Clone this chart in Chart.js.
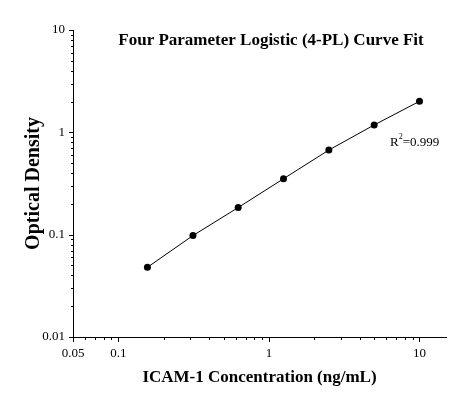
<!DOCTYPE html>
<html>
<head>
<meta charset="utf-8">
<script src="https://cdn.jsdelivr.net/npm/chart.js@4/dist/chart.umd.min.js"></script>
<style>
  html, body { margin: 0; padding: 0; background: #fff; }
  #wrap { width: 464px; height: 399px; }
</style>
</head>
<body>
<div id="wrap"><canvas id="mycanvas"></canvas></div>
<script>
// standard curve values
var concentration = [0.156, 0.313, 0.625, 1.25, 2.5, 5, 10];
var opticalDensity = [0.048, 0.098, 0.184, 0.352, 0.671, 1.18, 2.01];

var xLabels = [0.05, 0.1, 1, 10];
var yLabels = [0.01, 0.1, 1, 10];
var xMinor = [0.06, 0.07, 0.08, 0.09, 0.2, 0.3, 0.4, 0.5, 0.6, 0.7, 0.8, 0.9, 2, 3, 4, 5, 6, 7, 8, 9];
var yMinor = [0.02, 0.03, 0.04, 0.05, 0.06, 0.07, 0.08, 0.09, 0.2, 0.3, 0.4, 0.5, 0.6, 0.7, 0.8, 0.9, 2, 3, 4, 5, 6, 7, 8, 9];

var serif = "'Liberation Serif', 'Times New Roman', serif";

function setTicks(major, minor) {
	return function(scale) {
		var all = major.concat(minor).sort(function(a, b) { return a - b; });
		scale.ticks = all.map(function(v) { return { value: v, major: major.indexOf(v) >= 0 }; });
	};
}

function labelFor(major) {
	return function(value) {
		return major.indexOf(value) >= 0 ? String(value) : '';
	};
}

// tick marks, title text and R² note
var extras = {
	id: 'extras',
	afterDraw: function(chart) {
		var ctx = chart.ctx;
		var xs = chart.scales.x, ys = chart.scales.y;
		var area = chart.chartArea;
		ctx.save();
		ctx.strokeStyle = '#000';
		ctx.lineWidth = 1;
		ctx.beginPath();
		xs.ticks.forEach(function(t) {
			var px = Math.round(xs.getPixelForValue(t.value)) + 0.5;
			ctx.moveTo(px, area.bottom);
			ctx.lineTo(px, area.bottom + (t.major ? 5 : 3));
		});
		ys.ticks.forEach(function(t) {
			var py = Math.round(ys.getPixelForValue(t.value)) + 0.5;
			ctx.moveTo(area.left, py);
			ctx.lineTo(area.left - (t.major ? 4 : 2), py);
		});
		ctx.stroke();

		ctx.fillStyle = '#000';
		ctx.textBaseline = 'middle';
		ctx.textAlign = 'center';
		ctx.font = 'bold 17px ' + serif;
		ctx.fillText('Four Parameter Logistic (4-PL) Curve Fit', 271, 41);

		ctx.textAlign = 'left';
		ctx.font = '13px ' + serif;
		ctx.fillText('R', 390, 143);
		var rw = ctx.measureText('R').width;
		ctx.font = '8px ' + serif;
		ctx.fillText('2', 390 + rw, 137);
		var sw = ctx.measureText('2').width;
		ctx.font = '13px ' + serif;
		ctx.fillText('=0.999', 390 + rw + sw, 143);
		ctx.restore();
	}
};

var chartdata = {
	datasets: [{
		label: 'Standard',
		data: concentration.map(function(c, i) { return { x: c, y: opticalDensity[i] }; }),
		borderColor: '#000',
		backgroundColor: '#000',
		borderWidth: 1,
		pointRadius: 3.5,
		pointBorderWidth: 0,
		tension: 0
	}]
};

var ctx = document.getElementById('mycanvas');

var curveChart = new Chart(ctx, {
	type: 'line',
	data: chartdata,
	plugins: [extras],
	options: {
		responsive: true,
		maintainAspectRatio: false,
		animation: false,
		layout: { padding: { top: 30, right: 18, left: 0, bottom: 0 } },
		plugins: {
			legend: { display: false },
			tooltip: { enabled: false }
		},
		scales: {
			x: {
				type: 'logarithmic',
				min: 0.05,
				max: 15,
				afterBuildTicks: setTicks(xLabels, xMinor),
				afterFit: function(scale) { scale.height = 62; },
				grid: { display: true, drawOnChartArea: false, drawTicks: false },
				border: { display: true, color: '#000', width: 1 },
				ticks: {
					callback: labelFor(xLabels),
					autoSkip: false,
					maxRotation: 0,
					padding: 9,
					color: '#000',
					font: { family: serif, size: 13 }
				},
				title: {
					display: true,
					text: 'ICAM-1 Concentration (ng/mL)',
					color: '#000',
					font: { family: serif, size: 17, weight: 'bold' },
					padding: 11
				}
			},
			y: {
				type: 'logarithmic',
				min: 0.01,
				max: 10,
				afterBuildTicks: setTicks(yLabels, yMinor),
				afterFit: function(scale) { scale.width = 73; },
				grid: { display: true, drawOnChartArea: false, drawTicks: false },
				border: { display: true, color: '#000', width: 1 },
				ticks: {
					callback: labelFor(yLabels),
					autoSkip: false,
					padding: 8,
					color: '#000',
					font: { family: serif, size: 13 }
				},
				title: {
					display: true,
					text: 'Optical Density',
					color: '#000',
					font: { family: serif, size: 20, weight: 'bold' },
					padding: { top: 22, bottom: 0 }
				}
			}
		}
	}
});
</script>
</body>
</html>
